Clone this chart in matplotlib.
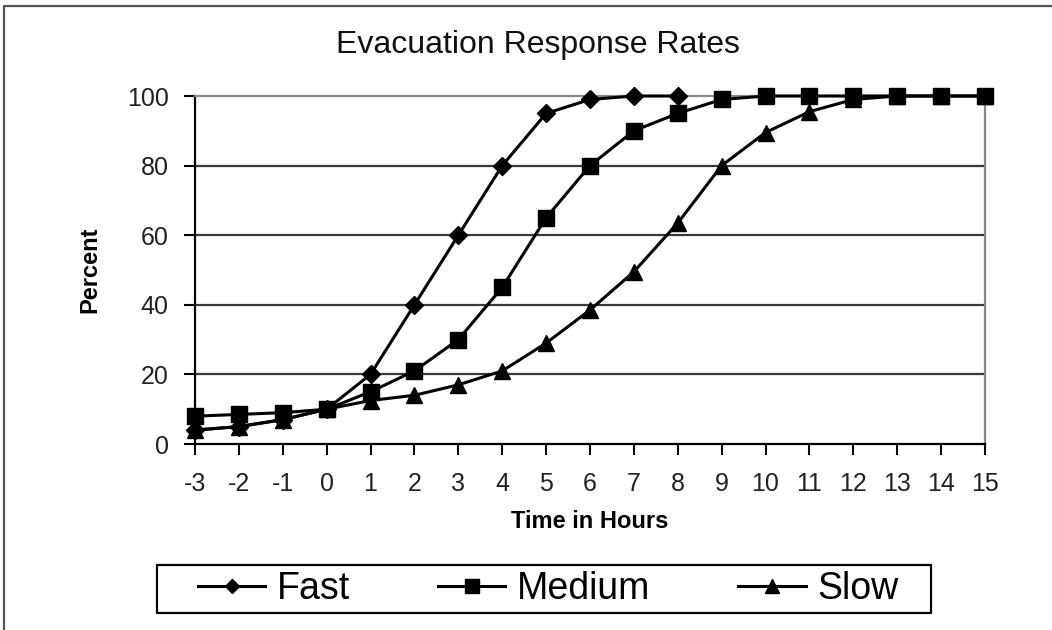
import matplotlib
matplotlib.use("Agg")
import matplotlib.pyplot as plt
from matplotlib.lines import Line2D
from matplotlib.patches import Rectangle

plt.rcParams['font.family'] = ['Liberation Sans', 'DejaVu Sans']
plt.rcParams['axes.unicode_minus'] = False

# ================================
# DATA
# ================================
hours_fast = [-3, -2, -1, 0, 1, 2, 3, 4, 5, 6, 7, 8]
fast = [4, 5, 7, 10, 20, 40, 60, 80, 95, 99, 100, 100]

hours_medium = [-3, -2, -1, 0, 1, 2, 3, 4, 5, 6, 7, 8, 9, 10, 11, 12, 13, 14, 15]
medium = [8, 8.5, 9, 10, 15, 21, 30, 45, 65, 80, 90, 95, 99, 100, 100, 100, 100, 100, 100]

hours_slow = [-3, -2, -1, 0, 1, 2, 3, 4, 5, 6, 7, 8, 9, 10, 11, 12, 13, 14, 15]
slow = [4, 5, 7, 10, 12.5, 14, 17, 21, 29, 38.5, 49.5, 63.5, 80, 89.5, 95.5, 99, 100, 100, 100]

x_ticks = list(range(-3, 16))
y_ticks = [0, 20, 40, 60, 80, 100]

# ================================
# FIGURE
# ================================
W, H = 1052, 630
fig = plt.figure(figsize=(W / 100, H / 100), dpi=100)
ax = fig.add_axes([195 / W, 1 - 444 / H, (985 - 195) / W, (444 - 96) / H])

# outer chart border (only left and top visible)
fig.add_artist(Line2D([4 / W, 4 / W, 1.01], [-0.01, 1 - 6 / H, 1 - 6 / H],
                      transform=fig.transFigure, color='#555555', lw=1.6))

# gridlines
for yv in y_ticks[1:-1]:
    ax.axhline(yv, color='#3a3a3a', lw=1.6, zorder=1)

line_kw = dict(color='black', lw=2.2, clip_on=False, zorder=3)
ax.plot(hours_fast, fast, marker='D', markersize=9, label='Fast', **line_kw)
ax.plot(hours_medium, medium, marker='s', markersize=12, label='Medium', **line_kw)
ax.plot(hours_slow, slow, marker='^', markersize=12, label='Slow', **line_kw)

ax.set_xlim(-3, 15)
ax.set_ylim(0, 100)
ax.set_xticks(x_ticks)
ax.set_yticks(y_ticks)

ax.spines['left'].set_color('black')
ax.spines['left'].set_linewidth(1.6)
ax.spines['bottom'].set_color('black')
ax.spines['bottom'].set_linewidth(1.6)
ax.spines['top'].set_color('#8a8a8a')
ax.spines['top'].set_linewidth(1.6)
ax.spines['right'].set_color('#8a8a8a')
ax.spines['right'].set_linewidth(1.6)

ax.tick_params(axis='both', direction='out', length=8, width=1.5,
               labelsize=18, labelcolor='#222222')
ax.tick_params(axis='y', pad=11)
ax.tick_params(axis='x', pad=12)

ax.set_xlabel('Time in Hours', fontsize=17, fontweight='bold', labelpad=10)
ax.set_ylabel('Percent', fontsize=17, fontweight='bold', labelpad=18)

fig.text(537.5 / W, 1 - 45 / H, 'Evacuation Response Rates',
         fontsize=23, ha='center', va='center', color='#111111')

# legend box drawn separately so its padding matches the reference
fig.add_artist(Rectangle((157 / W, 1 - 613 / H), (931 - 157) / W, (613 - 565) / H,
                         transform=fig.transFigure, fill=False,
                         edgecolor='black', lw=1.6))
leg = fig.legend(loc='center', bbox_to_anchor=(548 / W, 1 - 589 / H), ncol=3,
                 fontsize=27, frameon=False,
                 handlelength=1.8, handletextpad=0.3, columnspacing=2.35,
                 borderpad=0.15, borderaxespad=0, markerscale=0.8)

fig.savefig("out.png", dpi=100, facecolor='white')
